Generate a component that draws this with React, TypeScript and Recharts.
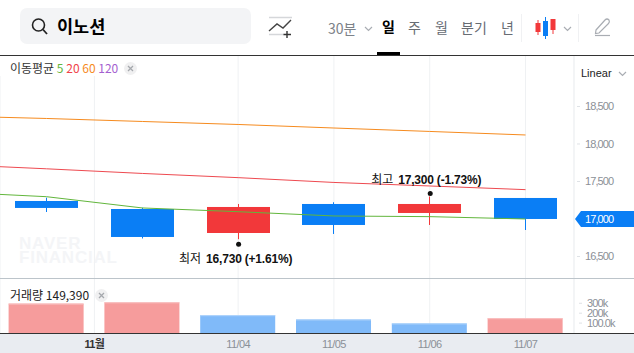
import React from 'react';
import { Bar, BarChart, CartesianGrid, ComposedChart, Line, ReferenceDot, XAxis, YAxis } from 'recharts';

const FONT = '"Liberation Sans", "Noto Sans CJK KR", sans-serif';
const KR = '"Noto Sans CJK KR", sans-serif';

const RED = '#f2383a';
const BLUE = '#0a7ef5';
const GRID = '#eff1f3';

// slot -1 is the session before the visible window, only its averages show
const slots = [-1, 0, 1, 2, 3, 4, 5];
const opens = [null, 17240, 17133, 16813, 17200, 17080, 17280];
const closes = [null, 17147, 16760, 17160, 16920, 17200, 17000];
const highs = [null, 17284, 17150, 17200, 17223, 17300, 17280];
const lows = [null, 17093, 16740, 16730, 16800, 16920, 16853];
const ma5 = [17360, 17297, 17147, 17097, 17040, 17031, 17000];
const ma20 = [17727, 17669, 17607, 17551, 17487, 17440, 17391];
const ma60 = [18373, 18340, 18300, 18260, 18213, 18167, 18120];
const volumes = [null, 297000, 310000, 180000, 137000, 97000, 149390];
const volumeUp = [null, true, true, false, false, false, true];

const priceTicks = [16500, 17000, 17500, 18000, 18500];
const volumeTicks = [100000, 200000, 300000];
const volumeTickLabels = ['100.0k', '200k', '300k'];
const dateTicks = [0.5, 2, 3, 4, 5];
const dateLabels = ['11월', '11/04', '11/05', '11/06', '11/07'];

const rows = slots.map((slot, i) => ({
  slot,
  open: opens[i],
  close: closes[i],
  wick: lows[i] == null ? null : [lows[i], highs[i]],
  ma5: ma5[i],
  ma20: ma20[i],
  ma60: ma60[i],
  volume: volumes[i],
  up: volumeUp[i],
}));

const xDomain: [number, number] = [-0.4854, 5.506];

const Candle = (props: any) => {
  const { x, y, width, height, payload } = props;
  if (payload.open == null) return null;
  const perUnit = height / (payload.wick[1] - payload.wick[0]);
  const top = y + (payload.wick[1] - Math.max(payload.open, payload.close)) * perUnit;
  const bottom = y + (payload.wick[1] - Math.min(payload.open, payload.close)) * perUnit;
  const color = payload.close > payload.open ? RED : BLUE;
  const cx = Math.floor(x + width / 2 + 0.4) + 0.5;
  return (
    <g>
      <line x1={cx} x2={cx} y1={y} y2={y + height} stroke={color} strokeWidth={1} />
      <rect x={cx - 31.5} y={top} width={63} height={bottom - top} fill={color} />
    </g>
  );
};

const VolumeBar = (props: any) => {
  const { x, y, width, height, payload } = props;
  if (payload.volume == null) return null;
  const fill = payload.up ? '#f69c9c' : '#80baf9';
  const edge = payload.up ? '#f9c3c3' : '#b3d6fb';
  return (
    <g>
      <rect x={x} y={y} width={width} height={height} fill={fill} />
      <rect x={x} y={y} width={width} height={1} fill={edge} />
    </g>
  );
};

const PriceTick = (props: any) => {
  const { x, y, payload } = props;
  const label = payload.value.toLocaleString('en-US');
  if (payload.value === 17000) {
    return (
      <g>
        <polygon points={`${x - 5},${y} ${x + 1},${y - 8} ${x + 62},${y - 8} ${x + 62},${y + 8} ${x + 1},${y + 8}`} fill={BLUE} />
        <text x={x + 5} y={y + 4} fontSize={11} letterSpacing={-0.9} fill="#fff" fontFamily={FONT}>{label}</text>
      </g>
    );
  }
  return (
    <g>
      <line x1={x - 3} x2={x} y1={y} y2={y} stroke="#dfe2e6" />
      <text x={x + 5} y={y + 4} fontSize={11} letterSpacing={-0.9} fill="#8b9097" fontFamily={FONT}>{label}</text>
    </g>
  );
};

const VolumeTick = (props: any) => {
  const { x, y, payload, index } = props;
  return (
    <g>
      <line x1={x - 3} x2={x} y1={y} y2={y} stroke="#dfe2e6" />
      <text x={x + 5} y={y + 4} fontSize={11} letterSpacing={-0.9} fill="#8b9097" fontFamily={FONT}>{volumeTickLabels[index]}</text>
    </g>
  );
};

const DateTick = (props: any) => {
  const { x, y, index } = props;
  return (
    <text
      x={x}
      y={y + 7}
      textAnchor="middle"
      fontSize={11}
      letterSpacing={-0.6}
      fontWeight={index === 0 ? 700 : 400}
      fill={index === 0 ? '#333' : '#8b9097'}
      fontFamily={FONT}
    >
      {dateLabels[index]}
    </text>
  );
};

const Extreme = (props: any) => {
  const { cx, cy, kind, value, dy, textDy, textDx } = props;
  return (
    <g>
      <circle cx={cx + 0.5} cy={cy + dy} r={2.5} fill="#111" />
      <text x={cx + textDx} y={cy + textDy} textAnchor="middle" fontSize={12} fill="#111" fontFamily={KR}>
        {kind}
        <tspan dx={5} fontWeight={700} fontFamily={FONT} letterSpacing={-0.2}>{value}</tspan>
      </text>
    </g>
  );
};

const Closer = ({ left, top }: { left: number; top: number }) => (
  <svg width={13} height={13} style={{ position: 'absolute', left, top }}>
    <circle cx={6.5} cy={6.5} r={6.5} fill="#f0f0f1" />
    <path d="M4 4 L9 9 M9 4 L4 9" stroke="#a5a8ad" strokeWidth={1.3} />
  </svg>
);

const Label = ({ left, top, size, color, bold, children }: any) => (
  <div
    style={{
      position: 'absolute',
      left,
      top,
      fontSize: size,
      lineHeight: '18px',
      color,
      fontWeight: bold ? 700 : 400,
      fontFamily: KR,
      whiteSpace: 'nowrap',
    }}
  >
    {children}
  </div>
);

const Chevron = ({ left, top }: { left: number; top: number }) => (
  <svg width={9} height={6} style={{ position: 'absolute', left, top }}>
    <path d="M1 1 L4.5 4.5 L8 1" fill="none" stroke="#a9adb3" strokeWidth={1.2} />
  </svg>
);

const Header = () => (
  <>
    <div style={{ position: 'absolute', left: 20, top: 8, width: 231, height: 36, borderRadius: 7, background: '#f3f4f6' }} />
    <svg width={20} height={20} style={{ position: 'absolute', left: 30, top: 17 }}>
      <circle cx={8.5} cy={8} r={6} fill="none" stroke="#222" strokeWidth={1.6} />
      <path d="M13 12.5 L17 17" stroke="#222" strokeWidth={1.8} />
    </svg>
    <Label left={57} top={17} size={17.5} color="#000" bold>이노션</Label>
    <svg width={26} height={24} style={{ position: 'absolute', left: 268, top: 16 }}>
      <path d="M1 1.5 H24 M1 18.5 H16" stroke="#d5d7da" strokeWidth={1.5} />
      <path d="M1 15 L9 8 L15 12 L23 4" fill="none" stroke="#444" strokeWidth={1.4} />
      <path d="M19 15 V22 M15.5 18.5 H23" stroke="#333" strokeWidth={1.4} />
    </svg>
    <Label left={328} top={19} size={14} color="#7d8288">30분</Label>
    <Chevron left={364} top={26} />
    <Label left={382} top={17} size={14} color="#000" bold>일</Label>
    <Label left={408} top={18} size={14} color="#676c73">주</Label>
    <Label left={435} top={18} size={14} color="#676c73">월</Label>
    <Label left={461} top={18} size={14} color="#676c73">분기</Label>
    <Label left={501} top={18} size={14} color="#676c73">년</Label>
    <div style={{ position: 'absolute', left: 521, top: 14, width: 1, height: 28, background: '#f0f1f3' }} />
    <svg width={22} height={24} style={{ position: 'absolute', left: 535, top: 16 }}>
      <path d="M3 4 V19 M18 3 V18" stroke={RED} strokeWidth={1} />
      <path d="M10.5 1 V23" stroke={BLUE} strokeWidth={1} />
      <rect x={0.5} y={7} width={5} height={9} fill={RED} />
      <rect x={8} y={5} width={5} height={15} fill={BLUE} />
      <rect x={15.5} y={3} width={5} height={11} fill={RED} />
    </svg>
    <Chevron left={563} top={26} />
    <div style={{ position: 'absolute', left: 578, top: 14, width: 1, height: 28, background: '#f0f1f3' }} />
    <svg width={18} height={20} style={{ position: 'absolute', left: 594, top: 17 }}>
      <path d="M2 13 L11 3 Q13 1 15 3 Q16 5 14.5 6.5 L5 16 L1.5 16.5 Z" fill="none" stroke="#a9adb3" strokeWidth={1.2} />
      <path d="M1 18.5 H16" stroke="#a9adb3" strokeWidth={1.2} />
    </svg>
    <div style={{ position: 'absolute', left: 377, top: 52, width: 23, height: 3, background: '#000' }} />
    <div style={{ position: 'absolute', left: 0, top: 55, width: 634, height: 1, background: '#333' }} />
    <div style={{ position: 'absolute', left: 581, top: 65, fontSize: 11, lineHeight: '16px', fontFamily: FONT, color: '#222' }}>Linear</div>
    <Chevron left={618} top={71} />
  </>
);

const App = () => (
  <div style={{ position: 'absolute', left: 0, top: 0, width: 634, height: 353, overflow: 'hidden', background: '#fff' }}>
    <div style={{ position: 'absolute', left: 0, top: 334, width: 634, height: 19, background: '#e9ecf1' }} />
    <div style={{ position: 'absolute', left: 0, top: 333, width: 634, height: 1, background: '#333' }} />
    <div style={{ position: 'absolute', left: 0, top: 278, width: 634, height: 1, background: '#bcc4ca' }} />

    <div style={{ position: 'absolute', left: 19, top: 237, fontFamily: FONT, fontWeight: 700, fontSize: 17, lineHeight: '14px', letterSpacing: 0.8, color: '#f4f5f7' }}>
      NAVER
      <br />
      FINANCIAL
    </div>

    <div style={{ position: 'absolute', left: 0, top: 56 }}>
      <ComposedChart width={634} height={222} data={rows} margin={{ top: 0, right: 0, bottom: 0, left: 0 }}>
        <CartesianGrid horizontal={false} stroke={GRID} />
        <XAxis dataKey="slot" type="number" domain={xDomain} allowDataOverflow ticks={dateTicks} hide />
        <YAxis
          orientation="right"
          width={60}
          domain={[16213, 19173]}
          allowDataOverflow
          ticks={priceTicks}
          interval={0}
          axisLine={{ stroke: GRID }}
          tickLine={false}
          tick={<PriceTick />}
          tickMargin={0}
        />
        <Bar dataKey="wick" barSize={63} shape={<Candle />} isAnimationActive={false} />
        <Line dataKey="ma60" stroke="#f68b1f" strokeWidth={1} dot={false} isAnimationActive={false} />
        <Line dataKey="ma20" stroke="#ee4a50" strokeWidth={1} dot={false} isAnimationActive={false} />
        <Line dataKey="ma5" stroke="#62b63c" strokeWidth={1} dot={false} isAnimationActive={false} />
        <ReferenceDot
          x={4}
          y={17300}
          shape={<Extreme kind="최고" value="17,300 (-1.73%)" dy={-3} textDy={-12} textDx={-3.5} />}
        />
        <ReferenceDot
          x={2}
          y={16730}
          shape={<Extreme kind="최저" value="16,730 (+1.61%)" dy={5} textDy={24} textDx={-2.5} />}
        />
      </ComposedChart>
    </div>

    <div style={{ position: 'absolute', left: 0, top: 279 }}>
      <BarChart width={634} height={74} data={rows} margin={{ top: 0, right: 0, bottom: 0, left: 0 }}>
        <CartesianGrid horizontal={false} stroke={GRID} />
        <XAxis
          dataKey="slot"
          type="number"
          domain={xDomain}
          allowDataOverflow
          ticks={dateTicks}
          interval={0}
          height={20}
          axisLine={false}
          tickLine={false}
          tick={<DateTick />}
        />
        <YAxis
          orientation="right"
          width={60}
          domain={[0, 545000]}
          ticks={volumeTicks}
          interval={0}
          axisLine={{ stroke: GRID }}
          tickLine={false}
          tick={<VolumeTick />}
        />
        <Bar dataKey="volume" barSize={75} shape={<VolumeBar />} isAnimationActive={false} />
      </BarChart>
    </div>

    <Header />

    <div style={{ position: 'absolute', left: 0, top: 56, width: 141, height: 20, background: '#fff' }} />
    <div style={{ position: 'absolute', left: 10, top: 60, fontSize: 12, lineHeight: '16px', fontFamily: KR, color: '#333', whiteSpace: 'nowrap' }}>
      이동평균 <span style={{ color: '#62b63c' }}>5</span> <span style={{ color: '#f0434a' }}>20</span>{' '}
      <span style={{ color: '#f68b1f' }}>60</span> <span style={{ color: '#a45fd0' }}>120</span>
    </div>
    <Closer left={124} top={62} />

    <div style={{ position: 'absolute', left: 10, top: 287, fontSize: 12, lineHeight: '16px', fontFamily: KR, color: '#222', whiteSpace: 'nowrap' }}>
      거래량 149,390
    </div>
    <Closer left={95} top={289} />
  </div>
);

export default App;
